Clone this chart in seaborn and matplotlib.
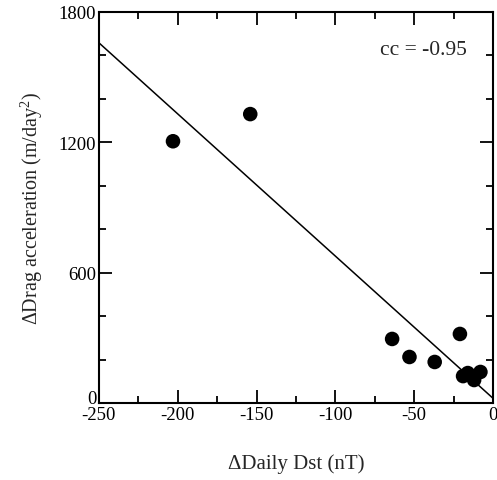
import matplotlib
matplotlib.use("Agg")
import matplotlib.pyplot as plt
import matplotlib.transforms as mtransforms
import seaborn as sns
import pandas as pd
from matplotlib.ticker import MultipleLocator

dst = [-203, -154, -64, -53, -37, -21, -19, -16, -12, -8]
drag = [1205, 1330, 295, 212, 189, 318, 124, 138, 106, 143]
xticks = [-250, -200, -150, -100, -50, 0]
yticks = [0, 600, 1200, 1800]

sns.set_theme(style="ticks")
plt.rcParams['font.family'] = ['Liberation Serif', 'DejaVu Serif']
plt.rcParams['mathtext.fontset'] = 'custom'
plt.rcParams['mathtext.rm'] = 'Liberation Serif'
plt.rcParams['axes.unicode_minus'] = False

df = pd.DataFrame({"dst": dst, "drag": drag})

fig = plt.figure(figsize=(4.97, 4.81), dpi=100)
ax = fig.add_axes([0.199, 0.160, 0.793, 0.813])
ax.set_xlim(-250, 0)
ax.set_ylim(0, 1800)

sns.regplot(data=df, x="dst", y="drag", ax=ax, ci=None, truncate=False,
            scatter_kws=dict(s=110, color="black", edgecolor="none", alpha=1, zorder=3),
            line_kws=dict(color="black", lw=1.1))
ax.set_xlim(-250, 0)
ax.set_ylim(0, 1800)

ax.set_xticks(xticks)
ax.set_yticks(yticks)
ax.xaxis.set_minor_locator(MultipleLocator(25))
ax.yaxis.set_minor_locator(MultipleLocator(200))
ax.tick_params(which="both", direction="in", top=True, right=True,
               labelsize=13.5, colors="black", width=1.3)
ax.tick_params(which="major", length=9.5, pad=2)
ax.tick_params(which="minor", length=5)
for sp in ax.spines.values():
    sp.set_linewidth(1.5)
    sp.set_color("black")

# nudge the y "0" label upward like the reference
t0 = ax.yaxis.get_major_ticks()[0].label1
t0.set_transform(t0.get_transform() + mtransforms.ScaledTranslation(0, 5 / 72, fig.dpi_scale_trans))

ax.set_xlabel("ΔDaily Dst (nT)", fontsize=15, labelpad=22)
ax.set_ylabel("ΔDrag acceleration (m/day$^2$)", fontsize=14.5, labelpad=10)
ax.text(0.934, 0.905, "cc = -0.95", transform=ax.transAxes, ha="right", va="center", fontsize=15.5)

fig.savefig("out.png", dpi=100)
